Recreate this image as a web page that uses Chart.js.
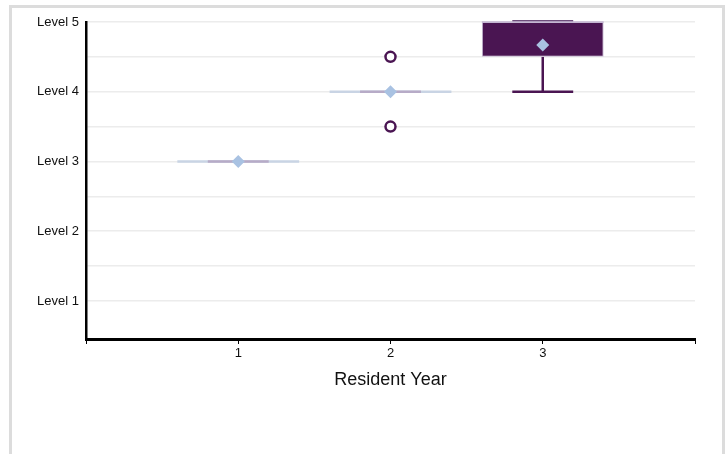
<!DOCTYPE html>
<html>
<head>
<meta charset="utf-8">
<script src="https://cdn.jsdelivr.net/npm/chart.js@4/dist/chart.umd.min.js"></script>
<style>
  body { margin: 0; background: #fff; }
  #frame { position: absolute; left: 9px; top: 5px; width: 710px; height: 520px; border: 3px solid #dcdcdc; }
  #wrap { position: absolute; left: 0; top: 0; width: 728px; height: 454px; }
</style>
</head>
<body>
<div id="frame"></div>
<div id="wrap"><canvas id="box1"></canvas></div>
<script>
// resident year box plot (levels 1..5)
const years = [1, 2, 3];
const whiskerMin = [3, 4, 4];
const q1 = [3, 4, 4.5];
const median = [3, 4, 5];
const q3 = [3, 4, 5];
const whiskerMax = [3, 4, 5];
const means = [3, 4, 4.67];
const outliers = [[], [3.5, 4.5], []];
const levelTicks = [1, 1.5, 2, 2.5, 3, 3.5, 4, 4.5, 5];
const levelLabels = ["Level 1", "Level 2", "Level 3", "Level 4", "Level 5"];

const purple = "#4a1552";

const outlierPoints = [];
years.forEach((yr, i) => outliers[i].forEach(v => outlierPoints.push({x: yr, y: v})));

const whiskers = {
  id: "whiskers",
  beforeDatasetsDraw(chart) {
    const ctx = chart.ctx;
    const xs = chart.scales.x, ys = chart.scales.y;
    const boxHalf = xs.getPixelForValue(0.4) - xs.getPixelForValue(0);
    const capHalf = xs.getPixelForValue(0.2) - xs.getPixelForValue(0);
    ctx.save();
    years.forEach((yr, i) => {
      const px = xs.getPixelForValue(yr);
      const line = (x1, y1, x2, y2, color, w) => {
        ctx.beginPath();
        ctx.strokeStyle = color;
        ctx.lineWidth = w;
        ctx.moveTo(x1, y1);
        ctx.lineTo(x2, y2);
        ctx.stroke();
      };
      if (q1[i] === q3[i]) {
        // collapsed box
        const py = ys.getPixelForValue(q1[i]);
        line(px - boxHalf, py, px + boxHalf, py, "#c9d4e4", 2.5);
        line(px - capHalf, py, px + capHalf, py, "#b7abc7", 2.5);
        return;
      }
      const pMin = ys.getPixelForValue(whiskerMin[i]);
      const pMax = ys.getPixelForValue(whiskerMax[i]);
      line(px, ys.getPixelForValue(q1[i]), px, pMin, purple, 2.5);
      line(px, ys.getPixelForValue(q3[i]), px, pMax, purple, 2.5);
      line(px - capHalf, pMin, px + capHalf, pMin, purple, 2.5);
      line(px - capHalf, pMax - 1, px + capHalf, pMax - 1, "#6e4d7c", 2);
    });
    ctx.restore();
  },
  afterDatasetsDraw(chart) {
    // median line on top of the box
    const ctx = chart.ctx;
    const xs = chart.scales.x, ys = chart.scales.y;
    const boxHalf = xs.getPixelForValue(0.4) - xs.getPixelForValue(0);
    ctx.save();
    years.forEach((yr, i) => {
      if (q1[i] === q3[i]) return;
      const px = xs.getPixelForValue(yr);
      const py = ys.getPixelForValue(median[i]);
      ctx.beginPath();
      ctx.strokeStyle = "#c4b6d2";
      ctx.lineWidth = 1.5;
      ctx.moveTo(px - boxHalf, py);
      ctx.lineTo(px + boxHalf, py);
      ctx.stroke();
    });
    ctx.restore();
  }
};

new Chart(document.getElementById("box1"), {
  type: "bar",
  data: {
    datasets: [
      {
        type: "scatter",
        label: "Mean",
        order: 0,
        data: years.map((yr, i) => ({x: yr, y: means[i]})),
        pointStyle: "rectRot",
        pointRadius: 6.5,
        backgroundColor: "#a9c2e2",
        borderWidth: 0
      },
      {
        type: "scatter",
        label: "Outliers",
        order: 1,
        data: outlierPoints,
        pointStyle: "circle",
        pointRadius: 5,
        borderWidth: 2.5,
        borderColor: purple,
        backgroundColor: "#fff"
      },
      {
        type: "bar",
        label: "Box",
        order: 2,
        data: years.map((yr, i) => ({x: yr, y: [q1[i], q3[i]]})),
        backgroundColor: purple,
        borderColor: "#c4b6d2",
        borderWidth: 1,
        borderSkipped: false,
        categoryPercentage: 1,
        barPercentage: 0.8
      }
    ]
  },
  options: {
    responsive: true,
    maintainAspectRatio: false,
    animation: false,
    layout: { padding: { left: 0, top: 22, right: 33, bottom: 63 } },
    plugins: { legend: { display: false }, tooltip: { enabled: false } },
    scales: {
      x: {
        type: "linear",
        min: 0,
        max: 4,
        offset: false,
        afterBuildTicks: s => { s.ticks = [0, 1, 2, 3, 4].map(v => ({value: v})); },
        afterFit: s => { s.height = 52; },
        grid: { offset: false, drawOnChartArea: false, drawTicks: true, tickLength: 5, color: "#000" },
        border: { color: "#000", width: 3 },
        ticks: {
          padding: 2,
          color: "#111",
          font: { family: "Liberation Sans", size: 13 },
          callback: v => (years.includes(v) ? String(v) : "")
        },
        title: {
          display: true,
          text: "Resident Year",
          color: "#111",
          padding: 0,
          font: { family: "Liberation Sans", size: 18 }
        }
      },
      y: {
        type: "linear",
        min: 0.455,
        max: 5,
        afterBuildTicks: s => { s.ticks = levelTicks.map(v => ({value: v})); },
        afterFit: s => { s.width = 86; },
        grid: { drawTicks: false, color: "#ececec", lineWidth: 1.5 },
        border: { color: "#000", width: 2.5 },
        ticks: {
          padding: 7,
          color: "#111",
          font: { family: "Liberation Sans", size: 13 },
          callback: v => (Number.isInteger(v) ? levelLabels[v - 1] : "")
        }
      }
    }
  },
  plugins: [whiskers]
});
</script>
</body>
</html>
